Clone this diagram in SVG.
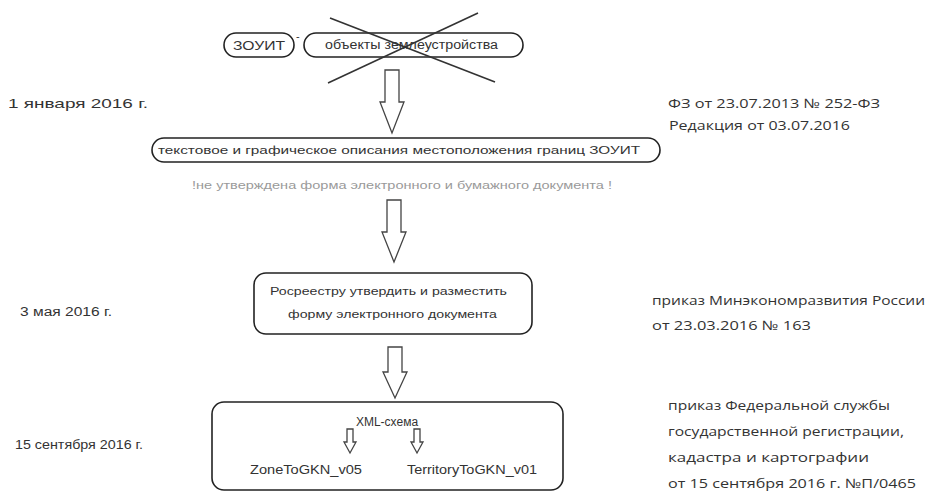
<svg xmlns="http://www.w3.org/2000/svg" width="930" height="493" viewBox="0 0 930 493">
<style>
.box{fill:#fff;stroke:#222;stroke-width:1.6}
.arr{fill:#fff;stroke:#444;stroke-width:1.3}
.t{font-family:"Liberation Sans",Arial,sans-serif;fill:#333}
.c{font-family:"Open Sans","Liberation Sans",sans-serif;fill:#333}
</style>
<rect width="930" height="493" fill="#fff"/>
<g id="labels-left">
<text class="t" x="8" y="108" font-size="13" textLength="140" lengthAdjust="spacingAndGlyphs">1 января 2016 г.</text>
<text class="t" x="20" y="316" font-size="12" textLength="92" lengthAdjust="spacingAndGlyphs">3 мая 2016 г.</text>
<text class="t" x="15" y="449" font-size="12" textLength="128" lengthAdjust="spacingAndGlyphs">15 сентября 2016 г.</text>
</g>
<g id="labels-right">
<text class="c" x="668" y="108" font-size="13" textLength="212" lengthAdjust="spacingAndGlyphs">ФЗ от 23.07.2013 № 252-ФЗ</text>
<text class="c" x="669" y="130" font-size="13" textLength="181" lengthAdjust="spacingAndGlyphs">Редакция от 03.07.2016</text>
<text class="c" x="652" y="305" font-size="13" textLength="273" lengthAdjust="spacingAndGlyphs">приказ Минэкономразвития России</text>
<text class="c" x="652" y="330" font-size="13" textLength="159" lengthAdjust="spacingAndGlyphs">от 23.03.2016 № 163</text>
<text class="c" x="668" y="410" font-size="13" textLength="222" lengthAdjust="spacingAndGlyphs">приказ Федеральной службы</text>
<text class="c" x="668" y="436" font-size="13" textLength="236" lengthAdjust="spacingAndGlyphs">государственной регистрации,</text>
<text class="c" x="668" y="462" font-size="13" textLength="201" lengthAdjust="spacingAndGlyphs">кадастра и картографии</text>
<text class="c" x="668" y="488" font-size="13" textLength="248" lengthAdjust="spacingAndGlyphs">от 15 сентября 2016 г. №П/0465</text>
</g>
<g id="node-zouit">
<rect class="box" x="224" y="33" width="70" height="24" rx="12"/>
<text class="t" x="259" y="50" font-size="13" text-anchor="middle" textLength="52" lengthAdjust="spacingAndGlyphs">ЗОУИТ</text>
</g>
<text class="t" x="296" y="40" font-size="11">-</text>
<g id="node-objects">
<rect class="box" x="304" y="33" width="219" height="24" rx="12"/>
<text class="t" x="325" y="49" font-size="12" textLength="173" lengthAdjust="spacingAndGlyphs">объекты землеустройства</text>
<line x1="330" y1="18" x2="495" y2="82" stroke="#333" stroke-width="1.6"/>
<line x1="478" y1="13" x2="328" y2="83" stroke="#333" stroke-width="1.6"/>
</g>
<g id="node-description">
<rect class="box" x="152" y="138" width="508" height="24" rx="12"/>
<text class="t" x="158" y="154" font-size="11" textLength="482" lengthAdjust="spacingAndGlyphs">текстовое и графическое описания местоположения границ ЗОУИТ</text>
</g>
<g id="note">
<text class="t" x="192" y="189" font-size="11" style="fill:#9a9a9a" textLength="420" lengthAdjust="spacingAndGlyphs">!не утверждена форма электронного и бумажного документа  !</text>
</g>
<g id="node-rosreestr">
<rect class="box" x="254" y="273" width="278" height="61" rx="12"/>
<text class="t" x="270" y="295" font-size="11" textLength="237" lengthAdjust="spacingAndGlyphs">Росреестру утвердить и разместить</text>
<text class="t" x="288" y="318" font-size="11" textLength="209" lengthAdjust="spacingAndGlyphs">форму электронного документа</text>
</g>
<g id="node-xml">
<rect class="box" x="212" y="402" width="351" height="88" rx="12"/>
<text class="t" x="387" y="426" font-size="12" text-anchor="middle">XML-схема</text>
<text class="t" x="250" y="474" font-size="12" textLength="112" lengthAdjust="spacingAndGlyphs">ZoneToGKN_v05</text>
<text class="t" x="407" y="474" font-size="12" textLength="130" lengthAdjust="spacingAndGlyphs">TerritoryToGKN_v01</text>
</g>
<g id="connectors">
<polygon class="arr" points="385,70 399,70 399,102 404,102 392,133 380,102 385,102"/>
<polygon class="arr" points="387,200 401,200 401,232 406,232 394,262 382,232 387,232"/>
<polygon class="arr" points="388,347 402,347 402,372 407,372 395,398 383,372 388,372"/>
<polygon class="arr" points="347,429 353,429 353,442 356,442 350,453 344,442 347,442"/>
<polygon class="arr" points="414,429 420,429 420,442 423,442 417,453 411,442 414,442"/>
</g>
</svg>
